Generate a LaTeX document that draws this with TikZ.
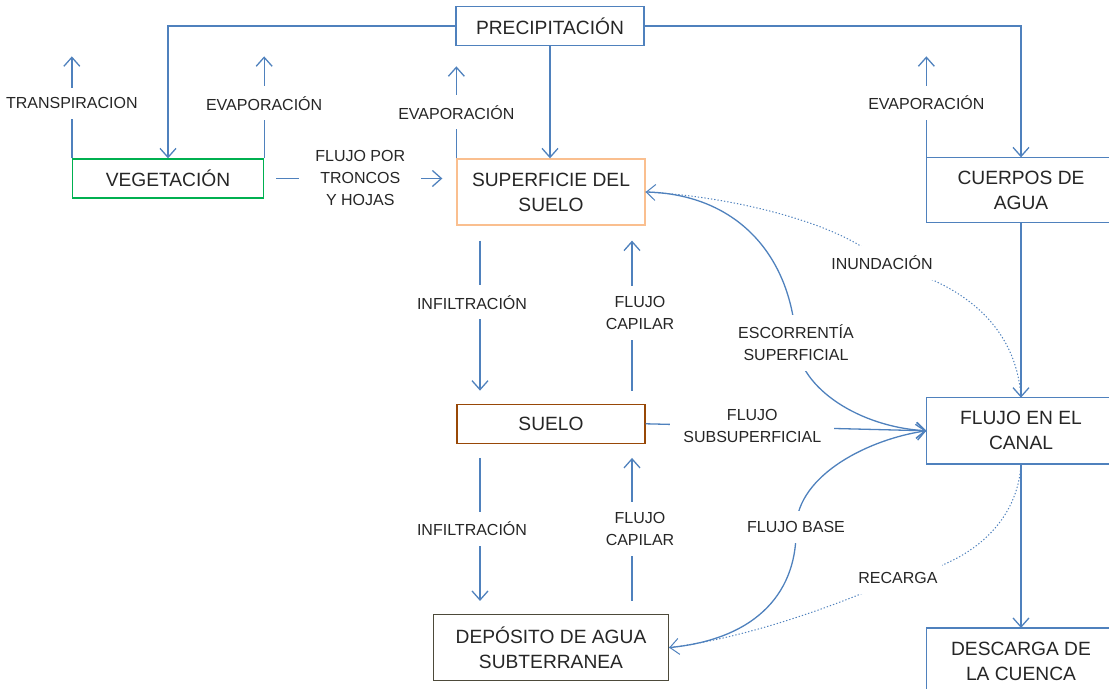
\documentclass[tikz,border=0pt]{standalone}
\usepackage{fontspec}
\setmainfont{Liberation Sans}
\usepackage{xcolor}
\usetikzlibrary{arrows.meta,positioning}
\definecolor{flowline}{HTML}{4F81BD}
\definecolor{vegline}{HTML}{00B050}
\definecolor{supline}{HTML}{FABF8F}
\definecolor{soilline}{HTML}{984807}
\definecolor{depline}{HTML}{4D4A3A}
\definecolor{txt}{HTML}{262626}

\begin{document}
\begin{tikzpicture}[x=0.5pt,y=0.5pt,font=\fontsize{9.6}{12.5}\selectfont,text=txt,
  bx/.style={draw=flowline,line width=0.65pt,fill=white,align=center,
             minimum width=94pt,minimum height=19.5pt,inner sep=2pt},
  ob/.style={bx,draw=none},
  bl/.style={flowline,line width=0.65pt},
  lbl/.style={font=\fontsize{8}{11}\selectfont,text=txt,fill=white,align=center,
              inner xsep=2pt,inner ysep=5pt},
  e/.style={-{Straight Barb[length=4.5pt,width=8pt]},flowline,line width=0.65pt},
  dl/.style={e,densely dotted,line width=0.5pt}]
  \useasboundingbox (0,0) rectangle (1109,689);
  \node[bx] (prec) at (550,663) {PRECIPITACIÓN};
  \node[bx,draw=vegline,minimum width=95.5pt] (veg) at (168,510.5) {VEGETACIÓN};
  \node[bx,draw=supline,minimum height=33pt] (sup) at (551,497) {SUPERFICIE DEL\\SUELO};
  \node[ob,minimum height=32pt] (cue) at (1021,499) {CUERPOS DE\\AGUA};
  \node[bx,draw=soilline,below=89pt of sup] (suelo) {SUELO};
  \node[bx,draw=depline,minimum width=117.5pt,minimum height=33pt,
        below=85pt of suelo] (dep) {DEPÓSITO DE AGUA\\SUBTERRANEA};
  \node[ob,minimum height=32.5pt,below=87.5pt of cue] (canal) {FLUJO EN EL\\CANAL};
  \node[ob,minimum height=33pt,below=82pt of canal] (desc) {DESCARGA DE\\LA CUENCA};
  % right boxes run off the page
  \draw[bl] ([xshift=20pt]cue.north east) -| (cue.south west) -- ([xshift=20pt]cue.south east);
  \draw[bl] ([xshift=20pt]canal.north east) -| (canal.south west) -- ([xshift=20pt]canal.south east);
  \draw[bl] ([xshift=20pt]desc.north east) -| (desc.south west) -- ([xshift=20pt]desc.south east);
  % precipitacion
  \draw[e] (prec.west) -| (veg.north);
  \draw[e] (prec.south) -- (prec.south |- sup.north);
  \draw[e] (prec.east) -| (cue.north);
  % evaporacion
  \draw[e] (veg.north west) -- node[lbl,pos=0.54]{TRANSPIRACION} ++(0,102);
  \draw[e] (veg.north east) -- node[lbl,pos=0.54]{EVAPORACIÓN} ++(0,102);
  \draw[e] (sup.north west) -- node[lbl]{EVAPORACIÓN} ++(0,92);
  \draw[e] (cue.north west) -- node[lbl,pos=0.54]{EVAPORACIÓN} ++(0,101);
  \draw[e,shorten <=6pt,shorten >=7pt] (veg.east) --
    node[lbl,inner xsep=8pt]{FLUJO POR\\TRONCOS\\Y HOJAS} (veg.east -| sup.west);
  % suelo
  \draw[e,shorten <=7.5pt,shorten >=6.5pt] ([xshift=-35.5pt]sup.south) --
    node[lbl,pos=0.43,xshift=-4pt]{INFILTRACIÓN} ([xshift=-35.5pt]suelo.north);
  \draw[e,shorten <=6.5pt,shorten >=7.5pt] ([xshift=40.5pt]suelo.north) --
    node[lbl,pos=0.51,xshift=4pt]{FLUJO\\CAPILAR} ([xshift=40.5pt]sup.south);
  \draw[e,shorten <=7pt,shorten >=6.5pt] ([xshift=-35.5pt]suelo.south) --
    node[lbl,xshift=-4pt]{INFILTRACIÓN} ([xshift=-35.5pt]dep.north);
  \draw[e,shorten <=6.5pt,shorten >=7pt] ([xshift=40.5pt]dep.north) --
    node[lbl,xshift=4pt]{FLUJO\\CAPILAR} ([xshift=40.5pt]suelo.south);
  \draw[e] (suelo.east) -- node[lbl,pos=0.38,inner xsep=6.5pt]{FLUJO\\SUBSUPERFICIAL} (canal.west);
  % canal
  \draw[e] (cue.south) -- (canal.north);
  \draw[e] (canal.south) -- (desc.north);
  \draw[e] (sup.east) .. controls (740,495) and (792,430) .. (796,346)
    node[lbl]{ESCORRENTÍA\\SUPERFICIAL} .. controls (800,300) and (860,262) .. (canal.west);
  \draw[dl] (canal.north) .. controls (1018,340) and (990,400) .. (882,426)
    node[lbl]{INUNDACIÓN} .. controls (850,462) and (740,492) .. (sup.east);
  \draw[e] (dep.east) .. controls (760,50) and (798,100) .. (796,162)
    node[lbl]{FLUJO BASE} .. controls (798,215) and (870,250) .. (canal.west);
  \draw[dl] (canal.south) .. controls (1018,170) and (975,125) .. (898,111)
    node[lbl]{RECARGA} .. controls (830,80) and (740,50) .. (dep.east);
\end{tikzpicture}
\end{document}
